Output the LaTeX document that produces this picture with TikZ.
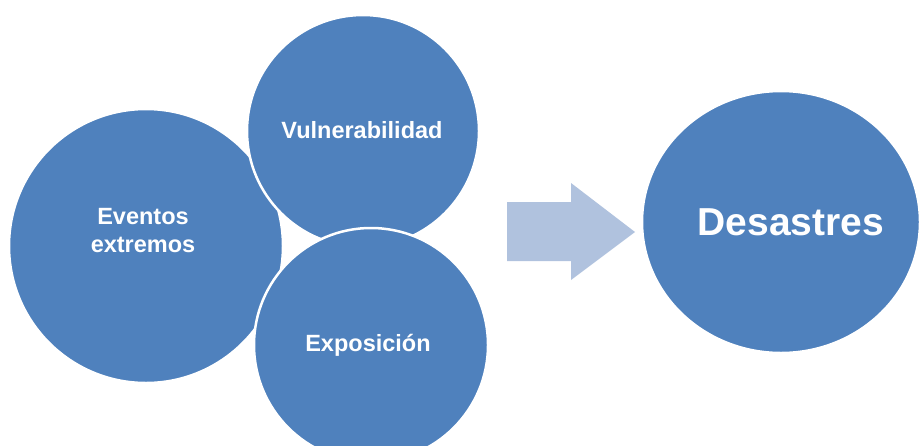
\documentclass[tikz,border=0pt]{standalone}
\usepackage{fontspec}
\setmainfont{Liberation Sans}
\usetikzlibrary{shapes.geometric}
\definecolor{circblue}{HTML}{4F81BD}
\definecolor{arrowblue}{HTML}{B0C2DE}
\tikzset{
  bubble/.style={circle, fill=circblue, draw=white, line width=2.5pt, inner sep=0pt},
  bubtext/.style={text=white, font=\bfseries\fontsize{23.5}{28}\selectfont, align=center, inner sep=0pt},
  bigtext/.style={text=white, font=\bfseries\fontsize{39}{46}\selectfont, align=center, inner sep=0pt}
}
\begin{document}
\begin{tikzpicture}[x=1pt,y=-1pt]
\useasboundingbox (0,0) rectangle (920,445);
\begin{scope}
\clip (0,0) rectangle (920,445);
\node[bubble, minimum size=274pt] (ev) at (146,246) {};
\node[bubble, minimum size=232pt] (vu) at (363,131) {};
\node[bubble, minimum size=234pt] (ex) at (371,345) {};
\node[ellipse, fill=circblue, draw=white, line width=2.5pt, minimum width=278pt, minimum height=262pt, inner sep=0pt] (de) at (781,222) {};
\end{scope}
\node[bubtext] (evt) at (143,231) {Eventos\\extremos};
\node[bubtext] (vut) at (362,130) {Vulnerabilidad};
\node[bubtext] (ext) at (368,345) {Exposición};
\node[bigtext] (det) at (791,222) {Desastres};
\fill[arrowblue] (507,202) -- (571,202) -- (571,183) -- (635,232) -- (571,280) -- (571,261) -- (507,261) -- cycle;
\end{tikzpicture}
\end{document}
